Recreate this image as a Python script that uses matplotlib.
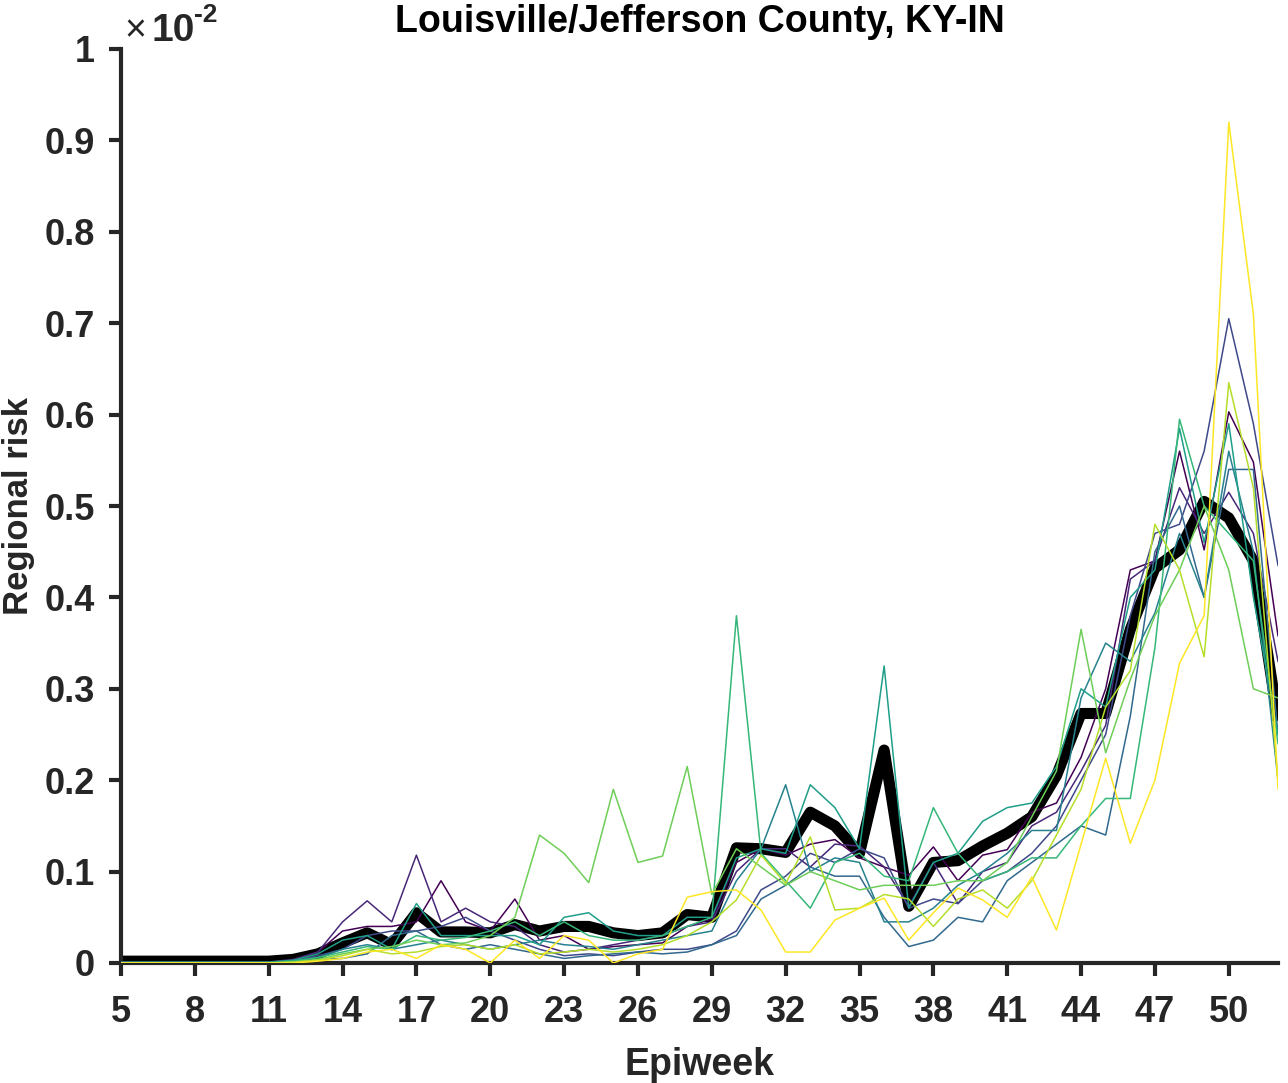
import numpy as np
import matplotlib
matplotlib.use('Agg')
import matplotlib.pyplot as plt
from matplotlib.ticker import FuncFormatter

plt.rcParams['font.family'] = ['Liberation Sans', 'DejaVu Sans']

# 数据（单位 ×10^-2），第 5–52 周
weeks = list(range(5, 53))

mean_risk = [0.002] * 7 + [
    0.004, 0.010, 0.022, 0.033, 0.020, 0.055, 0.034, 0.034, 0.033, 0.042,
    0.035, 0.040, 0.040, 0.033, 0.030, 0.033, 0.053, 0.050, 0.126, 0.125,
    0.121, 0.165, 0.150, 0.120, 0.233, 0.062, 0.110, 0.112, 0.128, 0.142,
    0.160, 0.205, 0.273, 0.273, 0.365, 0.432, 0.452, 0.505, 0.487, 0.440, 0.265]

run1 = [0.001] * 7 + [
    0.003, 0.012, 0.035, 0.040, 0.040, 0.045, 0.090, 0.045, 0.035, 0.070,
    0.025, 0.030, 0.015, 0.018, 0.020, 0.022, 0.040, 0.048, 0.110, 0.125,
    0.118, 0.130, 0.135, 0.115, 0.105, 0.096, 0.127, 0.090, 0.118, 0.124,
    0.165, 0.175, 0.225, 0.300, 0.430, 0.440, 0.560, 0.452, 0.603, 0.548, 0.358]
run2 = [0.001] * 7 + [
    0.004, 0.012, 0.045, 0.068, 0.045, 0.118, 0.045, 0.060, 0.045, 0.040,
    0.020, 0.012, 0.015, 0.020, 0.025, 0.030, 0.040, 0.045, 0.100, 0.125,
    0.125, 0.105, 0.130, 0.128, 0.105, 0.062, 0.110, 0.065, 0.100, 0.110,
    0.150, 0.165, 0.210, 0.260, 0.420, 0.440, 0.520, 0.470, 0.515, 0.470, 0.330]
run3 = [0.0] * 7 + [
    0.002, 0.008, 0.015, 0.030, 0.035, 0.035, 0.040, 0.050, 0.035, 0.025,
    0.015, 0.008, 0.010, 0.008, 0.012, 0.015, 0.015, 0.020, 0.035, 0.080,
    0.095, 0.120, 0.110, 0.125, 0.115, 0.060, 0.070, 0.065, 0.090, 0.100,
    0.120, 0.150, 0.200, 0.250, 0.380, 0.470, 0.480, 0.560, 0.705, 0.590, 0.435]
run4 = [0.0] * 7 + [
    0.001, 0.004, 0.005, 0.010, 0.030, 0.035, 0.020, 0.015, 0.020, 0.015,
    0.010, 0.005, 0.008, 0.010, 0.012, 0.010, 0.012, 0.020, 0.030, 0.070,
    0.085, 0.105, 0.095, 0.095, 0.050, 0.018, 0.025, 0.050, 0.045, 0.090,
    0.110, 0.130, 0.150, 0.140, 0.270, 0.450, 0.500, 0.400, 0.540, 0.540, 0.250]
run5 = [0.0] * 7 + [
    0.002, 0.006, 0.015, 0.020, 0.015, 0.020, 0.025, 0.020, 0.015, 0.020,
    0.025, 0.020, 0.018, 0.015, 0.020, 0.025, 0.030, 0.035, 0.090, 0.125,
    0.195, 0.100, 0.115, 0.110, 0.045, 0.045, 0.060, 0.085, 0.100, 0.120,
    0.145, 0.145, 0.290, 0.350, 0.330, 0.383, 0.470, 0.400, 0.560, 0.450, 0.200]
run6 = [0.001] * 7 + [
    0.003, 0.010, 0.025, 0.030, 0.015, 0.065, 0.030, 0.030, 0.030, 0.030,
    0.020, 0.050, 0.055, 0.035, 0.030, 0.030, 0.050, 0.050, 0.115, 0.125,
    0.120, 0.195, 0.170, 0.125, 0.325, 0.060, 0.110, 0.120, 0.155, 0.170,
    0.175, 0.215, 0.300, 0.280, 0.400, 0.430, 0.585, 0.460, 0.590, 0.400, 0.250]
run7 = [0.0] * 7 + [
    0.002, 0.006, 0.012, 0.018, 0.015, 0.030, 0.025, 0.028, 0.035, 0.045,
    0.030, 0.045, 0.030, 0.025, 0.025, 0.030, 0.040, 0.050, 0.380, 0.120,
    0.090, 0.060, 0.110, 0.120, 0.095, 0.090, 0.170, 0.120, 0.090, 0.100,
    0.115, 0.115, 0.150, 0.180, 0.180, 0.345, 0.595, 0.500, 0.470, 0.440, 0.240]
run8 = [0.0] * 7 + [
    0.001, 0.004, 0.010, 0.015, 0.018, 0.025, 0.020, 0.022, 0.030, 0.050,
    0.140, 0.120, 0.088, 0.190, 0.110, 0.117, 0.215, 0.075, 0.125, 0.105,
    0.085, 0.100, 0.090, 0.080, 0.085, 0.085, 0.085, 0.090, 0.090, 0.110,
    0.160, 0.210, 0.365, 0.230, 0.310, 0.380, 0.430, 0.500, 0.430, 0.300, 0.290]
run9 = [0.0] * 7 + [
    0.001, 0.003, 0.008, 0.015, 0.010, 0.012, 0.018, 0.020, 0.015, 0.020,
    0.010, 0.012, 0.015, 0.012, 0.015, 0.020, 0.030, 0.045, 0.069, 0.118,
    0.087, 0.138, 0.058, 0.060, 0.075, 0.070, 0.040, 0.070, 0.080, 0.060,
    0.090, 0.140, 0.190, 0.280, 0.320, 0.480, 0.430, 0.335, 0.635, 0.520, 0.200]
run10 = [0.0] * 7 + [
    0.000, 0.002, 0.005, 0.012, 0.015, 0.005, 0.020, 0.015, 0.000, 0.025,
    0.005, 0.030, 0.025, 0.000, 0.010, 0.015, 0.072, 0.078, 0.080, 0.058,
    0.012, 0.012, 0.047, 0.060, 0.071, 0.025, 0.055, 0.082, 0.069, 0.050,
    0.094, 0.036, 0.130, 0.224, 0.131, 0.200, 0.328, 0.380, 0.920, 0.710, 0.190]

runs = [run1, run2, run3, run4, run5, run6, run7, run8, run9, run10]

AX_COLOR = '#262626'

fig = plt.figure(figsize=(12.88, 10.83), dpi=100)
ax = fig.add_axes([121 / 1288, 1 - 963 / 1083, (1278 - 121) / 1288, (963 - 49) / 1083])

ax.plot(weeks, mean_risk, color='black', linewidth=8, solid_joinstyle='round',
        solid_capstyle='butt', zorder=2)
colors = plt.cm.viridis(np.linspace(0, 1, len(runs)))
for r, c in zip(runs, colors):
    ax.plot(weeks, r, color=c, linewidth=1.1, zorder=3)

ax.set_xlim(5, 52)
ax.set_ylim(0, 1)
ax.set_xticks(range(5, 51, 3))
ax.set_yticks(np.arange(0, 1.01, 0.1))
ax.yaxis.set_major_formatter(FuncFormatter(lambda v, p: f'{v:g}'))

for s in ['top', 'right']:
    ax.spines[s].set_visible(False)
for s in ['left', 'bottom']:
    ax.spines[s].set_linewidth(3)
    ax.spines[s].set_color(AX_COLOR)
    ax.spines[s].set_capstyle('projecting')

ax.tick_params(direction='out', length=9, width=3, color=AX_COLOR,
               labelsize=26, labelcolor=AX_COLOR)
ax.tick_params(axis='x', pad=14)
ax.tick_params(axis='y', pad=10)
for lbl in ax.get_xticklabels() + ax.get_yticklabels():
    lbl.set_fontweight('bold')

ax.set_xlabel('Epiweek', fontsize=27, fontweight='bold', color=AX_COLOR, labelpad=12)
ax.set_ylabel('Regional risk', fontsize=25, fontweight='bold', color=AX_COLOR)
ax.yaxis.set_label_coords(-0.074, 0.5)
ax.set_title('Louisville/Jefferson County, KY-IN', fontsize=27, fontweight='bold',
             color='black', pad=12)

# 乘数标记 ×10^-2
fig.text(124 / 1288, 1 - 41 / 1083, '×', fontsize=27, color=AX_COLOR)
fig.text(151 / 1288, 1 - 41 / 1083, '10', fontsize=28, fontweight='bold', color=AX_COLOR)
fig.text(194 / 1288, 1 - 22 / 1083, '-2', fontsize=19, fontweight='bold', color=AX_COLOR)

fig.savefig('out.png', dpi=100, facecolor='white')
